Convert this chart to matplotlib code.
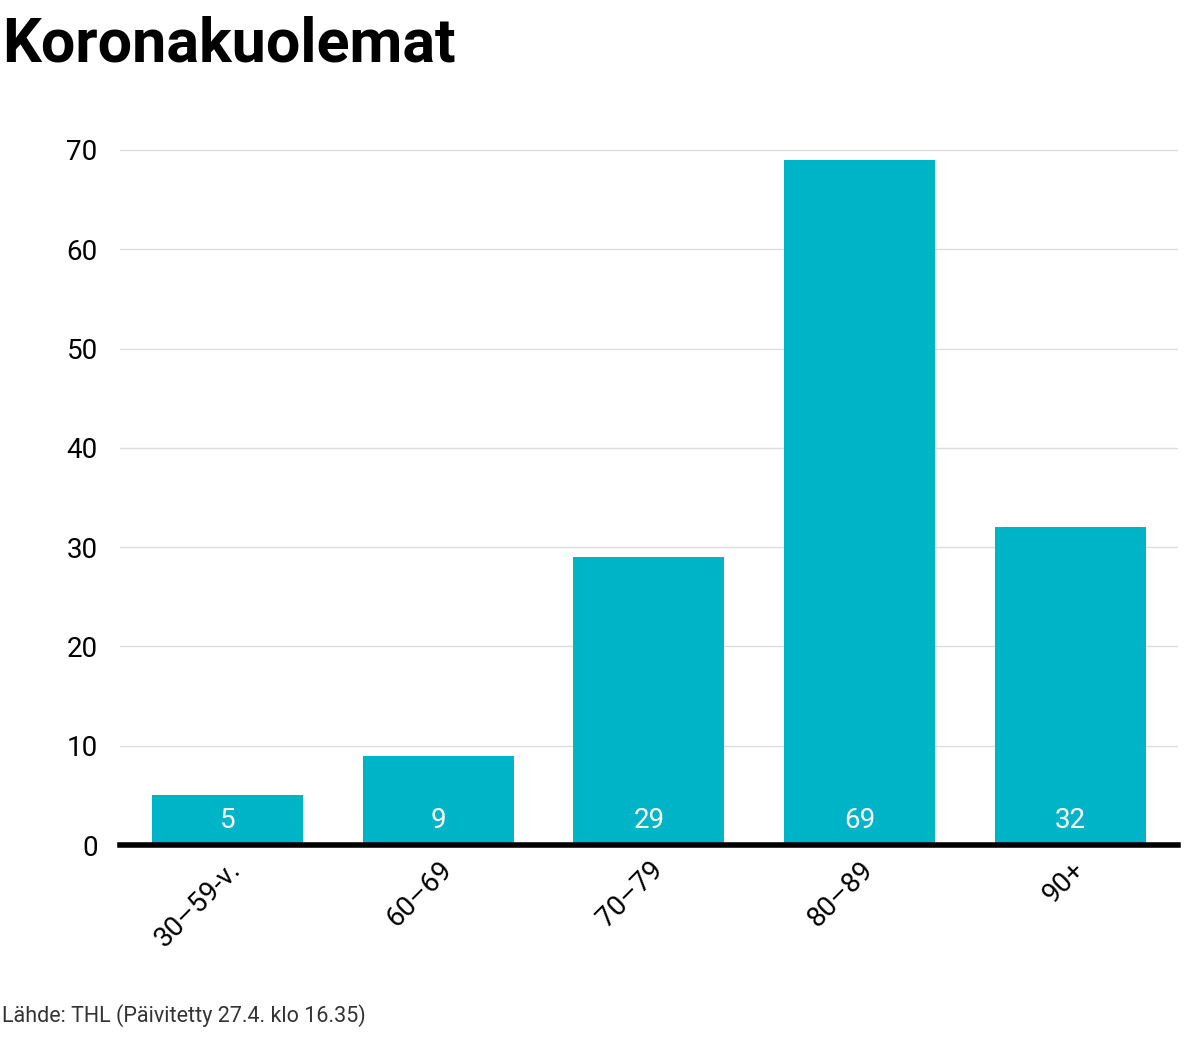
import matplotlib
matplotlib.use("Agg")
import matplotlib.pyplot as plt

categories = ["30–59-v.", "60–69", "70–79", "80–89", "90+"]
values = [5, 9, 29, 69, 32]
yticks = [0, 10, 20, 30, 40, 50, 60, 70]

plt.rcParams["font.family"] = "Roboto"
fig = plt.figure(figsize=(11.99, 10.58), dpi=100)
ax = fig.add_axes([0.100, 0.2013, 0.8825, 0.6617])
x = list(range(len(categories)))
bars = ax.bar(x, values, width=0.716, color="#00b4c8", zorder=2)
for xi, v in zip(x, values):
    ax.text(xi, 2.5, str(v), ha="center", va="center", color="white", fontsize=20, zorder=3)
ax.set_xlim(-0.51, 4.51)
ax.set_ylim(0, 70.5)
ax.set_yticks(yticks)
ax.set_yticklabels([str(t) for t in yticks], fontsize=20)
ax.yaxis.grid(True, color="#dddddd", linewidth=1, zorder=0)
ax.tick_params(axis="y", length=0, pad=16)
ax.tick_params(axis="x", length=0, pad=8)
ax.set_xticks(x)
ax.set_xticklabels(categories, rotation=45, ha="right", va="top", rotation_mode="anchor", fontsize=20)
for s in ["top", "right", "left"]:
    ax.spines[s].set_visible(False)
ax.spines["bottom"].set_linewidth(4)
ax.spines["bottom"].set_zorder(4)
fig.text(0.002, 0.985, "Koronakuolemat", fontsize=44, fontweight="bold", va="top", ha="left")
fig.text(0.002, 0.04, "Lähde: THL (Päivitetty 27.4. klo 16.35)", fontsize=15.5, color="#333333", va="center", ha="left")
fig.savefig("out.png", dpi=100)
